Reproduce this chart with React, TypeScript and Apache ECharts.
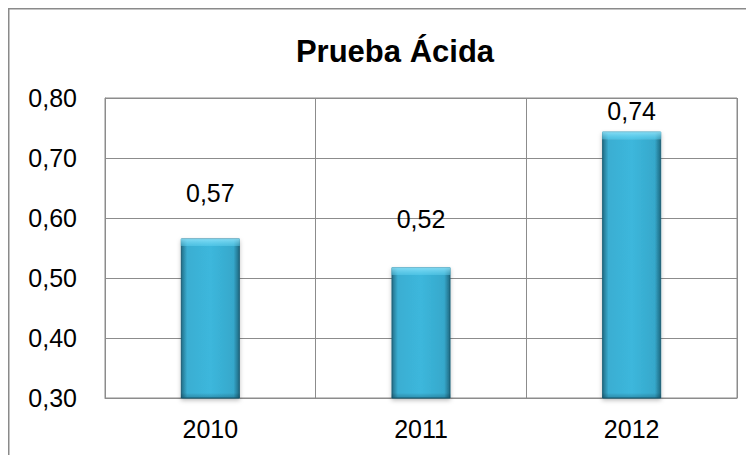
import React, { useEffect, useRef } from "react";
import * as echarts from "echarts";

const categories = ["2010", "2011", "2012"];
const values = [0.566, 0.518, 0.744];
const labelDistances = [33, 36, 8];
const yTicks = { min: 0.3, max: 0.8, interval: 0.1 };
const titleText = "Prueba Ácida";

const fmt = (v: number) => v.toFixed(2).replace(".", ",");

export default function App() {
  const ref = useRef<HTMLDivElement>(null);
  useEffect(() => {
    if (!ref.current) return;
    const chart = echarts.init(ref.current, undefined, { renderer: "svg" });
    const font = "'Liberation Sans', Arial, sans-serif";
    const plotHeight = 447 - 90 - 57;
    const bevel = (v: number) => {
      const h = ((v - yTicks.min) / (yTicks.max - yTicks.min)) * plotHeight;
      const t = Math.min(0.4, 8 / h);
      const b = Math.max(0.6, 1 - 5 / h);
      return new echarts.graphic.LinearGradient(0, 0, 0, 1, [
        { offset: 0, color: "rgba(150,230,252,0.85)" },
        { offset: t * 0.95, color: "rgba(100,212,242,0.45)" },
        { offset: t, color: "rgba(255,255,255,0)" },
        { offset: b, color: "rgba(0,0,0,0)" },
        { offset: 1, color: "rgba(0,40,60,0.25)" },
      ]);
    };
    chart.setOption({
      animation: false,
      backgroundColor: "#ffffff",
      title: {
        text: titleText,
        left: 382,
        top: 23,
        textAlign: "center",
        textStyle: { fontFamily: font, fontSize: 31, fontWeight: "bold", color: "#000" },
      },
      graphic: [
        {
          type: "rect",
          shape: { x: 0.75, y: 0.75, width: 800, height: 600 },
          style: { fill: "none", stroke: "#8a8a8a", lineWidth: 1.5 },
          silent: true,
          z: 100,
        },
      ],
      grid: {
        left: 97,
        right: 17,
        top: 90,
        bottom: 57,
        show: true,
        borderColor: "#8c8c8c",
        borderWidth: 1,
        backgroundColor: "transparent",
      },
      xAxis: {
        type: "category",
        data: categories,
        boundaryGap: true,
        axisLine: { show: true, lineStyle: { color: "#8c8c8c", width: 1 } },
        axisTick: { show: false },
        splitLine: { show: true, lineStyle: { color: "#8c8c8c", width: 1 } },
        axisLabel: { fontFamily: font, fontSize: 25, color: "#000", margin: 18 },
      },
      yAxis: {
        type: "value",
        min: yTicks.min,
        max: yTicks.max,
        interval: yTicks.interval,
        axisLine: { show: true, lineStyle: { color: "#8c8c8c", width: 1 } },
        axisTick: { show: false },
        splitLine: { show: true, lineStyle: { color: "#8c8c8c", width: 1 } },
        axisLabel: {
          fontFamily: font,
          fontSize: 25,
          color: "#000",
          margin: 28,
          formatter: (v: number) => fmt(v),
        },
      },
      series: [
        {
          type: "bar",
          data: values.map((v, i) => ({
            value: v,
            label: { distance: labelDistances[i] },
          })),
          barWidth: 59,
          itemStyle: {
            color: new echarts.graphic.LinearGradient(0, 0, 1, 0, [
              { offset: 0, color: "#236f88" },
              { offset: 0.1, color: "#3aaed2" },
              { offset: 0.5, color: "#3cb7dc" },
              { offset: 0.9, color: "#36a8cb" },
              { offset: 1, color: "#1f6a82" },
            ]),
            borderColor: "#1c6078",
            borderWidth: 1,
            shadowColor: "rgba(0,0,0,0.25)",
            shadowBlur: 4,
            shadowOffsetY: 2,
          },
          label: {
            show: true,
            position: "top",
            fontFamily: font,
            fontSize: 25,
            color: "#000",
            formatter: (p: any) => fmt(p.value),
          },
        },
        {
          type: "bar",
          barGap: "-100%",
          data: values.map((v) => ({ value: v, itemStyle: { color: bevel(v) } })),
          barWidth: 59,
          silent: true,
          z: 3,
        },
      ],
    });
    return () => chart.dispose();
  }, []);
  return <div ref={ref} style={{ width: 746, height: 447 }} />;
}
